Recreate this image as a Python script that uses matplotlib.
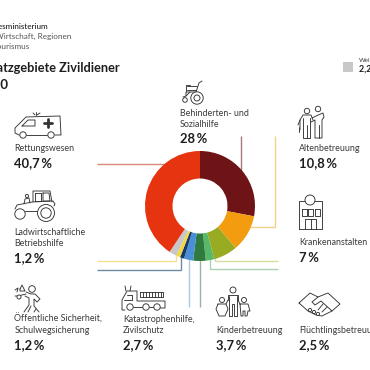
#Einsatzgebiete Zivildiener donut with pictograms

import matplotlib
matplotlib.use('Agg')
import matplotlib.pyplot as plt
from matplotlib.patches import Circle, Rectangle

plt.rcParams['font.family'] = ['Lato', 'DejaVu Sans']

# values, clockwise from 12 o'clock
categories = ['Behinderten- und Sozialhilfe', 'Altenbetreuung', 'Krankenanstalten',
              'Flüchtlingsbetreuung', 'Kinderbetreuung', 'Katastrophenhilfe, Zivilschutz',
              'Öffentliche Sicherheit, Schulwegsicherung', 'Ladwirtschaftliche Betriebshilfe',
              'Weitere', 'Rettungswesen']
values = [28, 10.8, 7, 2.5, 3.7, 2.7, 1.2, 1.2, 2.2, 40.7]
colors = ['#6e1416', '#f39c0f', '#98ab22', '#58b868', '#2f7a3f', '#4a90d8',
          '#17396f', '#f2d83a', '#c8c8c8', '#e5340f']

LINE = '#333333'
LW = 0.65

fig = plt.figure(figsize=(3.7, 3.7), dpi=100)
ax = fig.add_axes([0, 0, 1, 1], zorder=1)
ax.set_xlim(0, 370)
ax.set_ylim(370, 0)
ax.axis('off')

# donut
pie_ax = fig.add_axes([145/370, 109/370, 110/370, 110/370], zorder=2)
pie_ax.pie(values, colors=colors, startangle=90, counterclock=False, radius=1,
           wedgeprops={'width': 0.5, 'linewidth': 0})
pie_ax.set_xlim(-1, 1)
pie_ax.set_ylim(-1, 1)
pie_ax.patch.set_alpha(0)

# leader lines
def leader(xs, ys, c):
    ax.plot(xs, ys, color=c, lw=1.0, solid_capstyle='butt', solid_joinstyle='miter')

leader([97, 170], [164, 164], '#d9897c')
leader([241, 241, 236], [136, 172, 172], '#a87a7c')
leader([275, 275, 245], [136, 227, 227], '#efd48c')
leader([278, 215, 215], [261, 261, 250], '#d6dca0')
leader([278, 209.5, 209.5], [269, 269, 255], '#a9d2b4')
leader([200, 200], [307, 255], '#97b4a2')
leader([189, 189], [307, 255], '#a9c9e0')
leader([97, 181, 181], [270, 270, 255], '#6d8ba3')
leader([97, 176, 176], [261, 261, 252], '#f5e18f')

# texts
def label(x, y, s, size=6.4, c='#3a3a3a', **kw):
    ax.text(x, y, s, fontsize=size, color=c, va='baseline', **kw)

def pct(x, y, s):
    ax.text(x, y, s, fontsize=9.4, color='#1e1e1e', va='baseline', fontweight='bold')

label(47.5, 29, 'Bundesministerium', size=5.9, c='#222222', ha='right', fontweight='medium')
label(71.5, 39, 'für Digitalisierung und Wirtschaft, Regionen', size=5.9, c='#555555', ha='right')
label(29.5, 49, 'und Tourismus', size=5.9, c='#555555', ha='right')
ax.text(120, 72, 'Einsatzgebiete Zivildiener', fontsize=9.2, color='#1e1e1e', ha='right',
        va='baseline', fontweight='bold')
ax.text(9, 89, '2020', fontsize=9.6, color='#1e1e1e', ha='right', va='baseline', fontweight='bold')

label(14.5, 151, 'Rettungswesen')
pct(14.5, 167, '40,7\u2009%')
label(14.5, 235, 'Ladwirtschaftliche')
label(14.5, 246, 'Betriebshilfe')
pct(14.5, 262, '1,2\u2009%')
label(14.5, 322, 'Öffentliche Sicherheit,')
label(14.5, 333, 'Schulwegsicherung')
pct(14.5, 349, '1,2\u2009%')
label(123, 322, 'Katastrophenhilfe,')
label(123, 333, 'Zivilschutz')
pct(123, 349, '2,7\u2009%')
label(216.5, 333, 'Kinderbetreuung')
pct(216.5, 349, '3,7\u2009%')
label(299, 333, 'Flüchtlingsbetreuung')
pct(299, 349, '2,5\u2009%')
label(299, 245, 'Krankenanstalten')
pct(299, 262, '7\u2009%')
label(299, 151, 'Altenbetreuung')
pct(299, 167, '10,8\u2009%')
label(180, 116, 'Behinderten- und')
label(180, 127, 'Sozialhilfe')
pct(180, 143, '28\u2009%')
label(359, 62, 'Weitere', size=4.6)
ax.text(359, 72, '2,2\u2009%', fontsize=6.4, color='#1e1e1e', fontweight='bold', va='baseline')
ax.add_patch(Rectangle((343, 62), 10, 10, fc='#c8c8c8', ec='none'))

# pictogram helpers
def pl(*pts, closed=False, lw=LW):
    xs = [p[0] for p in pts]
    ys = [p[1] for p in pts]
    if closed:
        xs.append(xs[0])
        ys.append(ys[0])
    ax.plot(xs, ys, color=LINE, lw=lw, solid_joinstyle='round', solid_capstyle='round')

def circ(x, y, r, lw=LW):
    ax.add_patch(Circle((x, y), r, fc='white', ec=LINE, lw=lw, zorder=3))

# ambulance
pl((19, 135), (15, 133), (15, 128), (26, 117), (60, 116), (61, 135), (55, 135))
pl((26, 135), (47, 135))
circ(23, 135, 3.2)
circ(51, 135, 3.2)
pl((22, 126), (28, 120), (35, 120), (35, 126), closed=True)
pl((47.5, 119), (47.5, 127), lw=2)
pl((43.5, 123), (51.5, 123), lw=2)
pl((33, 113), (35, 115))
pl((36, 112), (36, 115))
pl((40, 113), (37, 115))

# tractor
circ(46, 213, 8.5)
circ(46, 213, 5.2)
circ(20, 214, 5.2)
pl((15, 209), (17, 205), (32, 202), (53, 201), (55, 204), (54, 206))
pl((25, 211), (37, 211))
pl((33, 202), (33, 191), (50, 191), (52, 202))
pl((35, 193), (41, 193), (41, 201), (35, 201), closed=True)
pl((43, 193), (49, 193), (50, 201), (43, 201), closed=True)
circ(27, 196, 1.6)
pl((24, 204), (25, 199), (29, 198), (30, 203))

# person with children
circ(32, 289, 3.3)
pl((26, 292), (31, 294), (35, 294), (40, 299), (37, 302), (34, 299), (34, 306), (39, 312))
pl((25, 296), (29, 298), (29, 305), (24, 312))
pl((31, 306), (28, 312))
pl((36, 309), (34, 312))
circ(19, 297, 2)
pl((15, 296), (18, 296), (26, 294))
pl((20, 289), (22, 285), (25, 291), (20, 291), closed=True)
pl((15, 290), (18, 288), (17, 292))

# fire truck
pl((125, 310), (122, 310), (122, 300), (127, 291), (137, 291), (137, 301), (165, 301), (165, 308), (160, 308))
pl((133, 307), (143, 307))
pl((149, 307), (154, 307))
circ(130, 307, 3.2)
circ(146, 307, 3.2)
circ(157, 307, 3.2)
pl((127, 295), (132, 295), (132, 300), (124, 300))
pl((140, 292), (163, 292), (163, 297), (140, 297), closed=True)
for x in [143, 146, 149, 152, 155, 158, 161]:
    pl((x, 292), (x, 297))
pl((126, 291), (125, 286))
pl((130, 291), (131, 286))

# family
circ(233, 290, 3)
pl((228, 300), (228, 295), (238, 295), (238, 300))
pl((229, 296), (229, 316), (232, 316), (232, 304), (234, 304), (234, 316), (237, 316), (237, 296))
circ(222, 300, 2.5)
pl((218, 304), (226, 304), (228, 309), (225, 316), (219, 316), (216, 309), closed=True)
pl((228, 300), (226, 304))
circ(244, 300, 2.5)
pl((240, 304), (248, 304), (250, 311), (248, 311), (247, 316), (245, 316), (245, 311), (243, 311), (243, 316), (241, 316), (240, 304))
pl((238, 300), (240, 304))

# handshake
pl((299, 303), (310, 293), (318, 297), (328, 293), (340, 304), (332, 311), (322, 316), (316, 315), (308, 311), closed=True)
pl((318, 297), (312, 302), (315, 305), (321, 301), (332, 311))
pl((327, 307), (322, 312))
pl((323, 304), (318, 310))
circ(310, 310, 1.6)
circ(314, 312, 1.6)
circ(318, 314, 1.6)

# hospital
pl((299, 229), (299, 201), (322, 201), (322, 229), closed=True)
circ(310, 200, 5)
pl((310, 196.5), (310, 203.5), lw=1.5)
pl((306.5, 200), (313.5, 200), lw=1.5)
for x in [301.5, 308, 314.5]:
    pl((x, 209), (x + 5, 209), (x + 5, 216), (x, 216), closed=True)
pl((305, 229), (305, 219), (316, 219), (316, 229))
pl((310.5, 219), (310.5, 229))

# elderly care
circ(307, 111, 2.7)
circ(318, 109, 2.7)
pl((300, 130), (300, 120), (303, 115), (311, 115), (313, 120))
pl((303, 118), (303, 138), (310, 138), (310, 118))
pl((306.5, 125), (306.5, 138))
pl((298, 125), (300, 120))
pl((299, 127), (299, 132))
pl((312, 118), (316, 116), (323, 113), (324, 117), (322, 120), (322, 138), (315, 138), (315, 120), (311, 122))
pl((318.5, 125), (318.5, 138))

# wheelchair
circ(197, 98, 6.2)
circ(197, 98, 3)
circ(185, 100, 2.3)
pl((202, 81), (199, 83), (196, 92), (186, 92), (186, 96))
pl((187, 86), (197, 86))
pl((187, 90), (196, 90))
pl((186, 91), (186, 85), (190, 85))
pl((183, 97), (186, 96), (190, 92))

fig.savefig('out.png', dpi=100)
plt.close()
